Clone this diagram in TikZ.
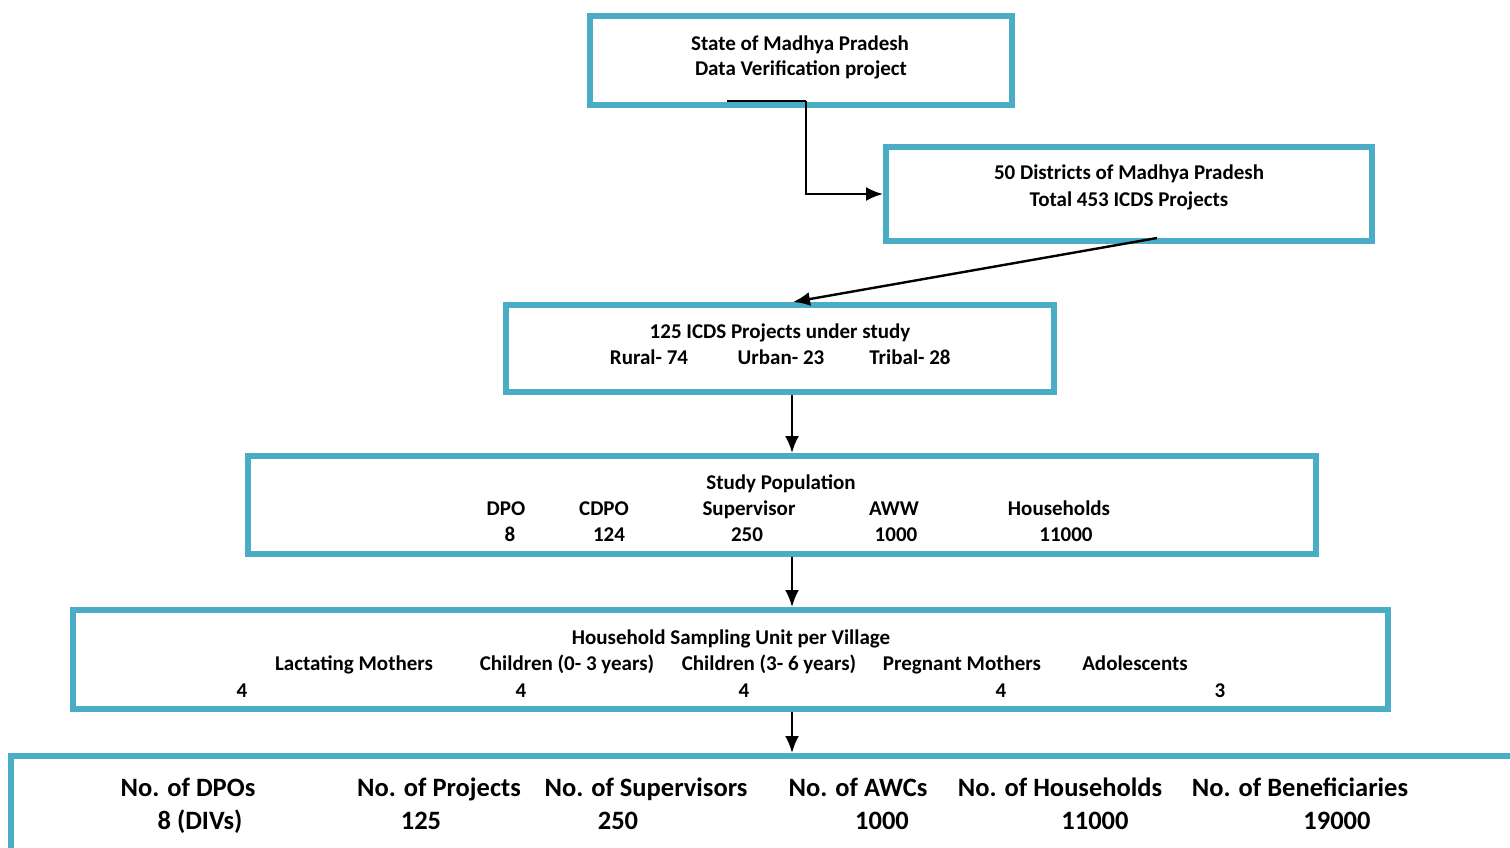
\documentclass[tikz,border=0pt]{standalone}
\usepackage{fontspec}
\setmainfont{Carlito}
\usepackage{tikz}
\usetikzlibrary{arrows.meta}
\definecolor{boxblue}{HTML}{4BACC6}
\tikzset{
  stage/.style={draw=boxblue,line width=6pt,inner sep=0pt},
  lbl/.style={font=\fontsize{21}{25}\selectfont\bfseries,inner sep=0pt,anchor=base},
  biglbl/.style={font=\fontsize{26.5}{31}\selectfont\bfseries,inner sep=0pt,anchor=base},
  link/.style={->,line width=2.4pt}
}

\begin{document}
\begin{tikzpicture}[x=1pt,y=-1pt,>={Latex[length=17pt,width=14pt]}]
  \useasboundingbox (0,0) rectangle (1510,847);

  % Cajas de cada etapa
  \node[stage,minimum width=422,minimum height=89] (state) at (801,60.5) {};
  \node[stage,minimum width=486,minimum height=94] (districts) at (1129,194) {};
  \node[stage,minimum width=548,minimum height=87] (study) at (780,348.5) {};
  \node[stage,minimum width=1068,minimum height=98] (popn) at (782,505) {};
  \node[stage,minimum width=1315,minimum height=99] (sampling) at (730.5,659.5) {};
  \node[stage,minimum width=1519,minimum height=114] (totals) at (770.5,813) {};

  % Textos de las cajas superiores
  \node[lbl] (state1) at (800,50) {State of Madhya Pradesh};
  \node[lbl] (state2) at (801,75) {Data Verification project};
  \node[lbl] (dist1) at (1129,179) {50 Districts of Madhya Pradesh};
  \node[lbl] (dist2) at (1129,206) {Total 453 ICDS Projects};
  \node[lbl] (study1) at (780,338) {125 ICDS Projects under study};
  \foreach \x/\t [count=\i] in {649/{Rural- 74},781/{Urban- 23},910/{Tribal- 28}}
    \node[lbl] (area\i) at (\x,364) {\t};

  % Poblacion de estudio
  \node[lbl] (pop0) at (781,489) {Study Population};
  \foreach \x/\t [count=\i] in {506/DPO,604/CDPO,749/Supervisor,894/AWW,1059/Households}
    \node[lbl] (pop\i) at (\x,515) {\t};
  \foreach \x/\t [count=\i] in {510/8,609/124,747/250,896/1000,1066/11000}
    \node[lbl] (popn\i) at (\x,541) {\t};

  % Unidad de muestreo
  \node[lbl] (unit0) at (731,644) {Household Sampling Unit per Village};
  \foreach \x/\t [count=\i] in {354/{Lactating Mothers},567/{Children (0- 3 years)},769/{Children (3- 6 years)},962/{Pregnant Mothers},1135/{Adolescents}}
    \node[lbl] (unit\i) at (\x,670) {\t};
  \foreach \x/\t [count=\i] in {242/4,521/4,744/4,1001/4,1220/3}
    \node[lbl] (unitn\i) at (\x,697) {\t};

  % Totales
  \foreach \x/\t [count=\i] in {188/{No. of DPOs},439/{No. of Projects},646/{No. of Supervisors},858/{No. of AWCs},1060/{No. of Households},1300/{No. of Beneficiaries}}
    \node[biglbl] (tot\i) at (\x,796) {\t};
  \foreach \x/\t [count=\i] in {200/{8 (DIVs)},421/125,618/250,882/1000,1095/11000,1337/19000}
    \node[biglbl] (totn\i) at (\x,829) {\t};

  % Flechas
  \coordinate (fork) at (727,101);
  \coordinate (spine) at (792,0);
  \draw[link,-] (fork) -- ++(79,0) coordinate (bend);
  \draw[link] (bend) |- (districts.west);
  \draw[link] ([shift={(28,-6)}]districts.south) -- ([xshift=13]study.north);
  \draw[link] (study.south -| spine) -- (popn.north -| spine);
  \draw[link] (popn.south -| spine) -- (sampling.north -| spine);
  \draw[link] (sampling.south -| spine) -- (totals.north -| spine);
\end{tikzpicture}
\end{document}
